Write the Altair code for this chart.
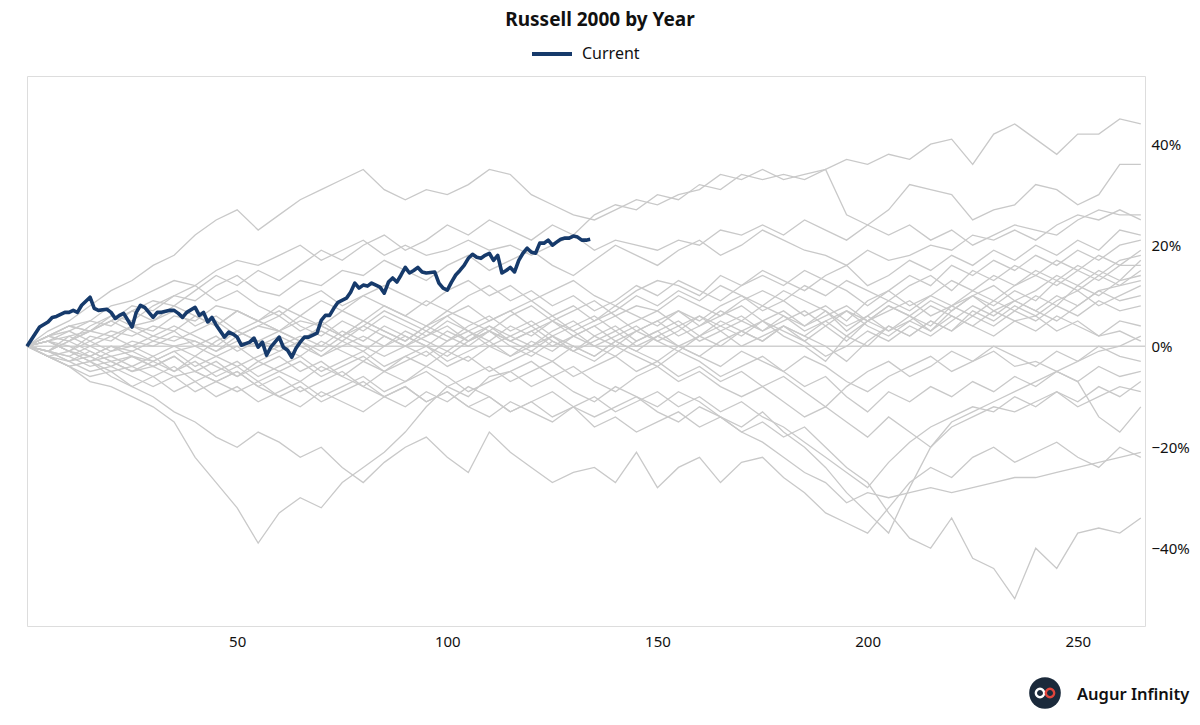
import altair as alt
import pandas as pd

# ---------------- data ----------------
days = [0, 5, 10, 15, 20, 25, 30, 35, 40, 45, 50, 55, 60, 65, 70, 75, 80, 85,
        90, 95, 100, 105, 110, 115, 120, 125, 130, 135, 140, 145, 150, 155, 160, 165,
        170, 175, 180, 185, 190, 195, 200, 205, 210, 215, 220, 225, 230, 235, 240, 245,
        250, 255, 260, 265]

current_days = [0, 3, 5, 6, 7, 9, 10, 11, 12, 13, 15, 16, 17, 19, 20, 21, 22, 23, 25, 26,
                27, 28, 30, 31, 32, 34, 35, 36, 37, 38, 40, 41, 42, 43, 44, 45, 47, 48, 49, 50,
                51, 53, 54, 55, 56, 57, 58, 59, 60, 61, 62, 63, 64, 65, 66, 67, 68, 69, 70, 71,
                72, 73, 74, 76, 77, 78, 79, 80, 81, 82, 84, 85, 86, 87, 88, 89, 90, 91, 92, 93,
                94, 95, 97, 98, 99, 100, 101, 102, 103, 104, 105, 106, 107, 108, 109, 110, 111, 112, 113, 114,
                115, 116, 117, 118, 119, 120, 121, 122, 123, 124, 125, 126, 127, 128, 129, 130, 131, 132, 133, 134]
current_pct = [0.0, 3.8, 4.8, 5.7, 5.9, 6.7, 6.7, 7.1, 6.7, 8.1, 9.7, 7.5, 7.1, 7.3, 6.7, 5.5, 6.1, 6.5, 3.8, 6.7,
               8.1, 7.7, 5.7, 6.7, 6.7, 7.1, 7.1, 6.5, 5.7, 6.7, 7.7, 6.1, 6.7, 4.8, 5.7, 4.2, 1.8, 2.8, 2.4, 1.8,
               0.2, 0.8, 1.6, -0.2, 0.8, -1.8, -0.2, 0.8, 1.8, -0.2, -0.8, -2.2, -0.4, 0.8, 1.8, 1.8, 2.2, 2.6, 5.1, 6.1,
               6.1, 7.5, 8.7, 9.5, 10.7, 12.5, 11.5, 12.1, 11.9, 12.5, 11.7, 10.5, 12.7, 13.5, 12.7, 14.1, 15.6, 14.5, 15.0, 15.6,
               14.7, 14.5, 14.7, 12.5, 11.5, 11.1, 12.7, 14.1, 15.0, 16.0, 17.4, 18.2, 17.6, 17.4, 18.0, 18.4, 17.0, 18.0, 14.5, 15.0,
               15.6, 14.7, 17.0, 18.4, 19.4, 18.6, 18.4, 20.4, 20.4, 21.0, 20.0, 20.6, 21.2, 21.4, 21.4, 21.8, 21.6, 21.0, 21.0, 21.2]

g01 = [0, 3, 5, 8, 11, 13,  16, 18, 22, 25, 27, 23,  26, 29, 31, 33, 35, 31,
       29, 31, 30, 32, 35, 34,  30, 28, 26, 25, 27, 29,  28, 30, 31, 34, 33, 35,
       33, 34, 35, 37, 36, 38,  37, 40, 41, 36, 42, 44,  41, 38, 42, 42, 45, 44]
g02 = [0, 2, 4, 5, 8, 9,  11, 13, 12, 15, 17, 16,  18, 20, 17, 19, 21, 18,
       20, 18, 19, 21, 19, 20,  18, 20, 22, 19, 21, 20,  19, 21, 20, 23, 22, 24,
       22, 25, 23, 21, 24, 27,  32, 31, 30, 25, 27, 28,  32, 31, 28, 30, 36, 36]
g03 = [0, 1, 3, 5, 4, 7,  9, 8, 11, 14, 12, 15,  13, 16, 19, 17, 20, 22,
       19, 21, 24, 22, 25, 23,  21, 24, 22, 26, 28, 27,  30, 29, 32, 31, 34, 33,
       34, 33, 35, 26, 24, 22,  24, 21, 23, 20, 22, 24,  23, 22, 25, 27, 26, 26]
g04 = [0, 2, 1, 4, 6, 5,  8, 10, 9, 12, 14, 11,  10, 13, 12, 15, 14, 17,
       15, 13, 16, 18, 15, 17,  19, 16, 14, 17, 20, 18,  16, 19, 21, 18, 20, 23,
       21, 19, 18, 16, 19, 17,  18, 20, 19, 22, 21, 23,  21, 24, 26, 25, 27, 25]
g05 = [0, -1, 2, 3, 5, 8,  7, 10, 12, 9, 11, 8,  6, 9, 11, 8, 10, 12,
       10, 8, 11, 13, 10, 12,  9, 11, 13, 10, 8, 11,  13, 12, 10, 14, 12, 15,
       13, 11, 14, 16, 12, 14,  17, 15, 18, 16, 19, 17,  20, 18, 21, 19, 23, 22]
g06 = [0, 1, -1, 2, 1, 4,  3, 6, 5, 8, 7, 5,  8, 6, 9, 7, 10, 8,
       6, 9, 7, 10, 12, 9,  11, 8, 10, 7, 9, 12,  10, 13, 11, 9, 12, 14,
       12, 15, 13, 11, 8, 11,  14, 12, 16, 14, 17, 15,  18, 16, 19, 17, 20, 21]
g07 = [0, 2, 3, 1, 3, 2,  4, 3, 6, 4, 7, 5,  3, 5, 4, 7, 5, 8,
       6, 4, 7, 5, 3, 6,  8, 5, 7, 9, 6, 8,  7, 10, 8, 6, 9, 11,
       9, 12, 10, 13, 11, 9,  12, 14, 11, 15, 13, 16,  14, 17, 15, 18, 16, 19]
g08 = [0, -2, -1, -3, -1, 1,  0, 2, 1, -1, 2, 4,  3, 1, 4, 2, 5, 3,
       1, 4, 6, 3, 5, 7,  4, 6, 3, 5, 8, 6,  4, 7, 5, 8, 10, 7,
       9, 6, 8, 5, 9, 11,  8, 10, 13, 11, 14, 12,  15, 13, 16, 14, 17, 18]
g09 = [0, 1, 0, -2, 0, -1,  1, 0, -2, 1, 3, 1,  0, 2, 0, 3, 1, 4,
       2, 0, 3, 1, 4, 2,  0, 3, 5, 2, 4, 1,  3, 5, 2, 4, 6, 3,
       5, 7, 4, 1, 5, 8,  6, 9, 7, 10, 12, 9,  11, 14, 12, 15, 13, 17]
g10 = [0, -1, -3, -2, -4, -2,  -3, -1, -4, -2, 0, -3,  -1, 1, -2, 0, 2, 0,
       3, 1, -1, 2, 4, 1,  3, 0, 2, 4, 1, 3,  5, 2, 4, 7, 5, 3,
       6, 4, 7, 3, 6, 9,  7, 10, 8, 11, 9, 12,  14, 12, 15, 13, 16, 16]
g11 = [0, 2, 4, 3, 6, 4,  5, 7, 4, 6, 3, 5,  7, 4, 2, 5, 3, 6,
       4, 2, 5, 3, 1, 4,  2, 5, 3, 0, 2, 4,  1, 3, 6, 4, 2, 5,
       3, 1, 4, 7, 5, 8,  6, 3, 7, 10, 8, 11,  9, 13, 11, 14, 12, 15]
g12 = [0, 1, -1, 1, -1, 0,  -2, 0, 1, -1, 1, 0,  2, 0, -2, 1, -1, 2,
       0, -2, 1, 3, 0, 2,  4, 1, -1, 2, 0, 3,  1, -1, 2, 0, 3, 5,
       2, 0, -3, 2, 5, 3,  6, 4, 8, 6, 9, 7,  10, 8, 12, 10, 13, 14]
g13 = [0, -2, -4, -3, -5, -4,  -6, -4, -7, -5, -3, -6,  -4, -2, -5, -3, -1, -4,
       -2, 0, -3, -1, 1, -2,  0, 2, -1, 1, 3, 0,  2, 4, 1, 3, 0, 2,
       4, 1, -2, 0, 3, 1,  4, 2, 5, 8, 6, 9,  7, 10, 8, 11, 12, 13]
g14 = [0, -1, 1, 3, 2, 0,  2, 4, 2, 0, 3, 1,  -1, 1, 3, 1, 4, 2,
       0, 3, 1, 4, 6, 3,  5, 2, 4, 6, 3, 5,  7, 4, 6, 3, 5, 8,
       6, 3, 5, 2, 0, 4,  2, 5, 3, 7, 5, 8,  6, 9, 11, 8, 10, 12]
g15 = [0, 1, 2, 0, 2, 4,  2, 1, 3, 5, 2, 4,  6, 3, 5, 2, 4, 7,
       5, 3, 6, 8, 5, 7,  9, 6, 8, 5, 7, 10,  8, 11, 9, 12, 10, 8,
       11, 9, 7, 4, 6, 3,  5, 8, 6, 4, 7, 9,  7, 5, 8, 11, 9, 10]
g16 = [0, -2, -3, -1, -3, -5,  -3, -5, -2, -4, -6, -3,  -5, -7, -4, -6, -3, -5,
       -2, -4, -1, -3, 0, -2,  1, -1, 2, 0, -2, 1,  3, 0, 2, 5, 3, 1,
       4, 2, 0, -3, 1, 4,  2, 5, 3, 6, 4, 7,  5, 8, 6, 9, 7, 8]
g17 = [0, 1, -1, -3, -2, -4,  -2, -5, -3, -6, -4, -7,  -5, -3, -6, -4, -2, -5,
       -3, -1, -4, -2, -5, -3,  -1, -3, 0, -2, 1, -1,  2, 0, -2, 1, 3, 1,
       4, 2, 5, 7, 4, 2,  5, 3, 6, 4, 2, 5,  3, 6, 4, 2, 5, 4]
g18 = [0, -1, -2, 0, -2, -1,  -3, -1, 0, -2, -4, -2,  0, -2, 1, -1, -3, 0,
       2, 0, -2, 1, 3, 1,  3, 5, 2, 4, 6, 3,  5, 7, 4, 6, 8, 5,
       7, 4, 6, 8, 5, 7,  9, 6, 8, 10, 7, 5,  6, 3, 5, 2, 3, 1]
g19 = [0, -2, -4, -6, -5, -8,  -6, -9, -7, -10, -8, -11,  -9, -7, -10, -8, -6, -9,
       -7, -5, -8, -6, -4, -7,  -5, -3, -6, -4, -2, -5,  -3, -6, -4, -7, -5, -8,
       -6, -9, -12, -8, -5, -3,  -6, -4, -1, -3, 0, -2,  -4, -1, -3, 0, -2, -3]
g20 = [0, 2, 1, 3, 5, 3,  1, 3, 0, 2, -1, 1,  3, 1, -1, 2, 0, -2,
       0, 2, 4, 1, 3, 0,  -2, 1, -1, -3, 0, -2,  -4, -1, -3, -6, -4, -2,
       -5, -8, -6, -10, -13, -9,  -11, -8, -10, -7, -9, -6,  -8, -5, -7, -4, -6, -5]
g21 = [0, -1, -3, -5, -4, -6,  -8, -6, -9, -7, -5, -8,  -10, -8, -11, -9, -7, -10,
       -12, -9, -11, -8, -10, -13,  -11, -14, -12, -10, -13, -11,  -9, -12, -10, -13, -11, -14,
       -16, -19, -22, -25, -28, -23,  -19, -16, -14, -12, -13, -10,  -12, -9, -11, -8, -10, -7]
g22 = [0, 2, 4, 3, 5, 7,  5, 8, 6, 4, 7, 5,  3, 6, 4, 2, 5, 3,
       1, 4, 2, 0, 3, 1,  -1, 2, 0, -2, 1, -1,  -3, 0, -2, -4, -1, -3,
       -5, -2, -4, -7, -9, -6,  -4, -2, -5, -3, -1, -4,  -3, -5, -7, -14, -17, -12]
g23 = [0, -1, -2, -4, -3, -5,  -4, -6, -5, -7, -9, -7,  -10, -12, -9, -11, -13, -10,
       -8, -11, -9, -12, -14, -11,  -13, -15, -12, -16, -14, -17,  -15, -13, -16, -14, -17, -19,
       -22, -25, -27, -31, -29, -30,  -29, -28, -29, -28, -27, -26,  -26, -25, -24, -23, -22, -21]
g24 = [0, -2, -4, -3, -6, -8,  -10, -13, -15, -18, -20, -17,  -19, -22, -20, -24, -27, -23,
       -20, -18, -22, -25, -17, -21,  -24, -27, -25, -24, -27, -21,  -28, -24, -22, -27, -23, -22,
       -26, -29, -33, -35, -37, -32,  -27, -24, -26, -22, -20, -23,  -21, -19, -22, -24, -20, -22]
g25 = [0, -1, 1, -1, -3, -2,  -4, -2, -5, -3, -6, -4,  -2, -5, -3, -6, -8, -5,
       -7, -4, -6, -9, -7, -5,  -8, -6, -9, -11, -8, -10,  -12, -9, -11, -14, -16, -13,
       -17, -20, -24, -29, -33, -37,  -28, -20, -15, -13, -11, -9,  -7, -5, -3, -1, 0, 2]
g26 = [0, 1, -1, -2, 0, -2,  -4, -2, -5, -7, -5, -8,  -6, -9, -7, -5, -8, -10,
       -8, -11, -9, -12, -10, -13,  -11, -9, -12, -14, -12, -10,  -13, -15, -12, -14, -17, -15,
       -18, -16, -20, -24, -27, -33,  -38, -40, -34, -42, -44, -50,  -40, -44, -37, -36, -37, -34]
g27 = [0, -2, -4, -7, -8, -10,  -12, -15, -22, -27, -32, -39,  -33, -30, -32, -27, -24, -21,
       -17, -12, -8, -10, -6, -5,  -3, -6, -4, -7, -9, -6,  -4, -7, -5, -8, -10, -8,
       -11, -14, -12, -15, -18, -14,  -17, -20, -16, -14, -12, -13,  -11, -9, -12, -10, -8, -9]

other_years = [g01, g02, g03, g04, g05, g06, g07, g08, g09, g10, g11, g12, g13, g14,
               g15, g16, g17, g18, g19, g20, g21, g22, g23, g24, g25, g26, g27]

# ---------------- tables ----------------
rows = []
for i, vals in enumerate(other_years):
    for d, v in zip(days, vals):
        rows.append({"year": f"Y{i + 1:02d}", "day": d, "pct": v})
gray_df = pd.DataFrame(rows)
cur_df = pd.DataFrame({"day": current_days, "pct": current_pct})
cur_df["series"] = "Current"
one = pd.DataFrame({"k": [0]})

FONT = "Noto Sans"
NAVY = "#163a6b"
GRAY = "#c9c9c9"

x_scale = alt.Scale(domain=[0, 266], nice=False, zero=False)
y_scale = alt.Scale(domain=[-55.4, 53.5], nice=False, zero=False)

x_enc = alt.X("day:Q", scale=x_scale,
              axis=alt.Axis(values=[50, 100, 150, 200, 250], title=None, grid=False,
                            ticks=False, domain=False, labelFontSize=15, labelPadding=8,
                            labelColor="#111111", labelFont=FONT))
y_enc = alt.Y("pct:Q", scale=y_scale,
              axis=alt.Axis(orient="right", values=[-40, -20, 0, 20, 40], title=None,
                            labelExpr="format(datum.value / 100, '.0%')", grid=False,
                            ticks=False, domain=False, labelFontSize=15, labelPadding=6,
                            labelColor="#111111", labelFont=FONT))

zero = alt.Chart(one).mark_rule(color="#d0d0d0", strokeWidth=1.5).encode(y=alt.datum(0))

gray = alt.Chart(gray_df).mark_line(color=GRAY, strokeWidth=1.3).encode(
    x=x_enc, y=y_enc, detail="year:N"
)

current = alt.Chart(cur_df).mark_line(strokeWidth=3.6, strokeJoin="round").encode(
    x=x_enc, y=y_enc,
    color=alt.Color("series:N",
                    scale=alt.Scale(domain=["Current"], range=[NAVY]),
                    legend=alt.Legend(title=None, orient="none", legendX=503, legendY=-44,
                                      symbolType="stroke", symbolSize=1600,
                                      symbolStrokeWidth=4, labelFontSize=16,
                                      labelFont=FONT, labelColor="#111111",
                                      labelOffset=8, direction="horizontal")),
)

logo_circle = alt.Chart(one).mark_point(shape="circle", filled=True, size=1000,
                                        color="#1b2a3b", opacity=1).encode(
    x=alt.value(1018), y=alt.value(617))
ring_left = alt.Chart(one).mark_point(shape="circle", filled=False, size=70,
                                      color="#ffffff", strokeWidth=2.4, opacity=1).encode(
    x=alt.value(1013), y=alt.value(617))
ring_right = alt.Chart(one).mark_point(shape="circle", filled=False, size=70,
                                       color="#e0453c", strokeWidth=2.4, opacity=1).encode(
    x=alt.value(1023), y=alt.value(617))
logo_text = alt.Chart(one).mark_text(text="Augur Infinity", align="left", baseline="middle",
                                     fontSize=16.5, fontWeight=600, font=FONT,
                                     color="#111111").encode(
    x=alt.value(1050), y=alt.value(619))

chart = alt.layer(zero, gray, current, logo_circle, ring_left, ring_right, logo_text).properties(
    width=1118,
    height=550,
    title=alt.TitleParams(text="Russell 2000 by Year", fontSize=19, fontWeight="bold",
                          font=FONT, color="#111111", anchor="middle", frame="group",
                          dx=14, offset=2),
    padding={"left": 27, "top": 76, "right": 55, "bottom": 99},
    autosize=alt.AutoSizeParams(type="none"),
).configure_view(stroke="#cccccc", strokeWidth=1).configure(font=FONT)

chart.save("out.html", embed_options={"renderer": "svg", "actions": False})
